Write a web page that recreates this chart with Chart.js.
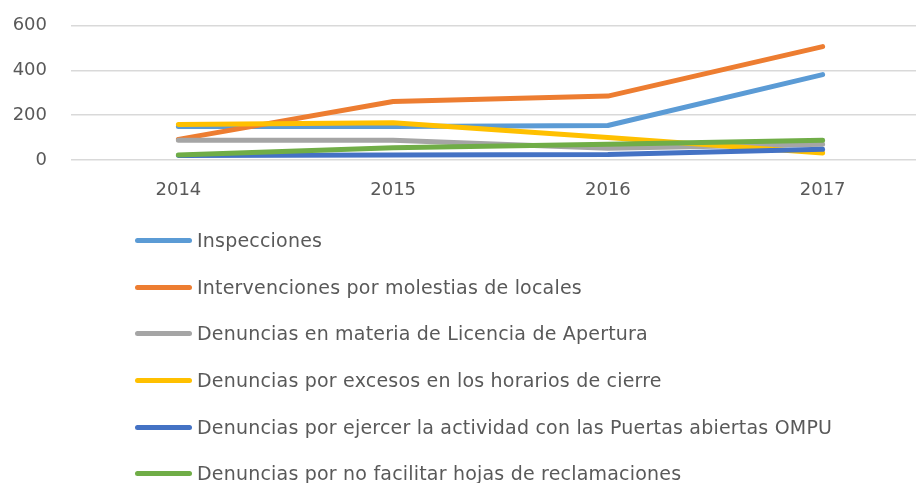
<!DOCTYPE html>
<html>
<head>
<meta charset="utf-8">
<script src="https://cdn.jsdelivr.net/npm/chart.js@4/dist/chart.umd.min.js"></script>
<style>
  html, body { margin: 0; padding: 0; background: #fff; overflow: hidden; }
  body { width: 916px; height: 483px; position: relative; }
  #wrap { position: absolute; left: 0; top: 0; width: 930px; height: 210px; }
  #legend { position: absolute; left: 0; top: 0; width: 916px; height: 483px; pointer-events: none; }
  .item { position: absolute; left: 135px; height: 24px; display: flex; align-items: center;
          font-family: "DejaVu Sans", sans-serif; font-size: 19px; letter-spacing: 0.2px; color: #595959; white-space: nowrap; }
  .sw { display: inline-block; width: 57px; height: 5px; border-radius: 3px; margin-right: 5px; }
</style>
</head>
<body>
<div id="wrap"><canvas id="c"></canvas></div>
<div id="legend"></div>
<script>
const categories = ["2014", "2015", "2016", "2017"];
const seriesNames = [
  "Inspecciones",
  "Intervenciones por molestias de locales",
  "Denuncias en materia de Licencia de Apertura",
  "Denuncias por excesos en los horarios de cierre",
  "Denuncias por ejercer la actividad con las Puertas abiertas OMPU",
  "Denuncias por no facilitar hojas de reclamaciones"
];
const inspecciones = [150, 150, 154, 381];
const intervenciones = [92, 261, 285, 506];
const licencia = [88, 88, 52, 70];
const horarios = [158, 166, 100, 31];
const puertas = [20, 22, 24, 48];
const reclamaciones = [22, 55, 70, 88];
const yTicks = [0, 200, 400, 600];
const colors = ["#5B9BD5", "#ED7D31", "#A5A5A5", "#FFC000", "#4472C4", "#70AD47"];

const seriesValues = [inspecciones, intervenciones, licencia, horarios, puertas, reclamaciones];

const datasets = seriesValues.map((vals, i) => ({
  label: seriesNames[i],
  data: vals,
  borderColor: colors[i],
  backgroundColor: colors[i],
  borderWidth: 5,
  pointRadius: 0,
  tension: 0,
  fill: false,
  borderCapStyle: "round",
  borderJoinStyle: "round",
  order: seriesValues.length - i
}));

const chart = new Chart(document.getElementById("c"), {
  type: "line",
  data: { labels: categories, datasets: datasets },
  options: {
    responsive: true,
    maintainAspectRatio: false,
    animation: false,
    layout: { padding: { top: 25.5, left: 0, right: 0, bottom: 0 } },
    plugins: { legend: { display: false }, tooltip: { enabled: false } },
    scales: {
      x: {
        offset: true,
        grid: { display: false, drawTicks: false },
        border: { display: false },
        ticks: { color: "#595959", font: { family: "DejaVu Sans", size: 18 }, padding: 20 },
        afterFit: (s) => { s.height = 50; s.paddingLeft = 0; s.paddingRight = 0; }
      },
      y: {
        min: 0, max: 600,
        afterBuildTicks: (s) => { s.ticks = yTicks.map(v => ({ value: v })); },
        grid: { color: "#D9D9D9", lineWidth: 1.5, drawTicks: false },
        border: { display: false },
        ticks: { color: "#595959", font: { family: "DejaVu Sans", size: 18 }, padding: 24 },
        afterFit: (s) => { s.width = 71; s.paddingTop = 0; s.paddingBottom = 0; }
      }
    }
  }
});

const legendTops = [240, 287, 333, 380, 427, 473];
const legend = document.getElementById("legend");
seriesNames.forEach((name, i) => {
  const d = document.createElement("div");
  d.className = "item";
  d.style.top = (legendTops[i] - 12) + "px";
  const sw = document.createElement("span");
  sw.className = "sw";
  sw.style.background = colors[i];
  d.appendChild(sw);
  d.appendChild(document.createTextNode(name));
  legend.appendChild(d);
});
</script>
</body>
</html>
